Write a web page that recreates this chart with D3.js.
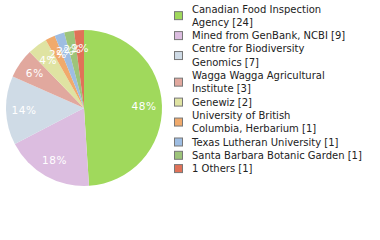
<!DOCTYPE html>
<html>
<head>
<meta charset="utf-8">
<script src="https://cdn.jsdelivr.net/npm/d3@7"></script>
<style>
  body { margin: 0; background: #fff; }
  text { font-family: "DejaVu Sans", sans-serif; }
</style>
</head>
<body>
<script>
// data
var names = [
  ["Canadian Food Inspection", "Agency [24]"],
  ["Mined from GenBank, NCBI [9]"],
  ["Centre for Biodiversity", "Genomics [7]"],
  ["Wagga Wagga Agricultural", "Institute [3]"],
  ["Genewiz [2]"],
  ["University of British", "Columbia, Herbarium [1]"],
  ["Texas Lutheran University [1]"],
  ["Santa Barbara Botanic Garden [1]"],
  ["1 Others [1]"]
];
var counts = [24, 9, 7, 3, 2, 1, 1, 1, 1];
var colors = ["#a0d95c", "#dcbde0", "#cfdbe6", "#e1a89e", "#dfe3a2", "#f0aa6c", "#9ebde2", "#9dc47a", "#e07258"];

var svg_w = 380, svg_h = 240;
var svg = d3.select("body").append("svg")
  .attr("width", svg_w)
  .attr("height", svg_h);

var cx = 84, cy = 108, radius = 78;
var total = d3.sum(counts);

var pie = d3.pie().sort(null).value(function(d) { return d; });
var arcs = pie(counts);

var arc = d3.arc().innerRadius(0).outerRadius(radius);
var labelArc = d3.arc().innerRadius(60).outerRadius(60);

var g = svg.append("g").attr("transform", "translate(" + cx + "," + cy + ")");

g.selectAll("path")
  .data(arcs)
  .enter()
  .append("path")
  .attr("d", arc)
  .attr("fill", function(d, i) { return colors[i]; });

g.selectAll("text.lbl")
  .data(arcs)
  .enter()
  .append("text")
  .attr("class", "lbl")
  .attr("transform", function(d) { return "translate(" + labelArc.centroid(d) + ")"; })
  .attr("text-anchor", "middle")
  .attr("dy", "0.35em")
  .attr("fill", "#fff")
  .attr("font-size", 10.5)
  .attr("letter-spacing", 0.6)
  .text(function(d) { return Math.floor(d.value / total * 100) + "%"; });

// legend
var lineH = 13.3, firstBase = 12.5;
var legend = svg.append("g");
var lineIdx = 0;
names.forEach(function(lines, i) {
  var base0 = firstBase + lineIdx * lineH;
  var baseN = firstBase + (lineIdx + lines.length - 1) * lineH;
  var mid = (base0 + baseN) / 2 - 3.5;
  legend.append("rect")
    .attr("x", 174.5)
    .attr("y", mid - 4)
    .attr("width", 8)
    .attr("height", 8)
    .attr("fill", colors[i])
    .attr("stroke", "#777")
    .attr("stroke-width", 1);
  lines.forEach(function(t, j) {
    legend.append("text")
      .attr("x", 192)
      .attr("y", base0 + j * lineH)
      .attr("font-size", 10)
      .attr("fill", "#222")
      .text(t);
  });
  lineIdx += lines.length;
});
</script>
</body>
</html>
